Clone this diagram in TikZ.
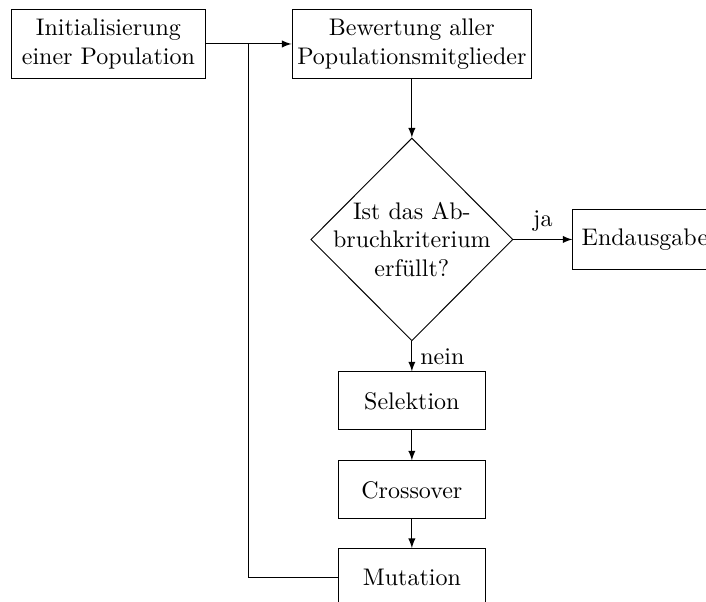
\documentclass[tikz,border=0pt]{standalone}
\usepackage{fontspec}
\usepackage{tikz}
\usetikzlibrary{shapes,arrows,calc,positioning}
\tikzset{
    block/.style = {draw, rectangle, align=center, inner sep=1pt,
        minimum height=1cm},
    stage/.style = {draw, rectangle,
        minimum height=0.85cm,
        minimum width=2.15cm},
    decision/.style = {draw, diamond, inner sep=0pt,
        minimum width=2.96cm, minimum height=2.97cm},
}

\begin{document}
\begin{tikzpicture}[auto, node distance=0.44cm, >=latex]
	\useasboundingbox (0,0) rectangle (10.34,-8.81);
	% start
	\node [block, minimum width=2.83cm, name=init] at (1.588,-0.644) {Initialisierung\\einer Population};
	\node [block, minimum width=3.51cm, right=1.26cm of init, name=eval] {Bewertung aller\\Populationsmitglieder};
	\coordinate (loopIn) at ($(init.east)!0.5!(eval.west)$);
	
	% check
	\node [decision, below=0.864cm of eval, name=check,
		label={[align=center]center:Ist das Ab-\\bruchkriterium\\erfüllt?}] {};
	\node [block, minimum width=2.11cm, minimum height=0.88cm, right=0.864cm of check, name=final] {Endausgabe};
	
	% operators
	\node [stage, below=of check, name=sel] {Selektion};
	\node [stage, below=of sel, name=cross] {Crossover};
	\node [stage, below=0.42cm of cross, name=mut] {Mutation};
	
	%%lines
	\draw [->] (init) -- (eval);
	\draw [->] (eval) -- (check);
	\draw [->] (check) -- node {ja} (final);
	\draw [->] (check) -- node {nein} (sel);
	\draw [->] (sel) -- (cross);
	\draw [->] (cross) -- (mut);
	\draw [-] (mut.west) -| (loopIn);
\end{tikzpicture}
\end{document}
